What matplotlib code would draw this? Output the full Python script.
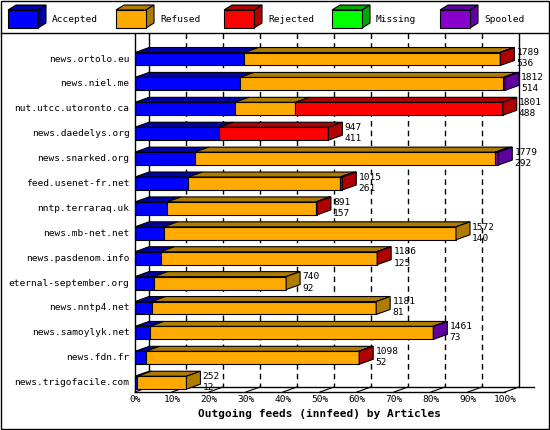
import matplotlib
matplotlib.use("Agg")
import matplotlib.pyplot as plt
from matplotlib.patches import Polygon, Rectangle

feeds = ["news.ortolo.eu", "news.niel.me", "nut.utcc.utoronto.ca", "news.daedelys.org",
         "news.snarked.org", "feed.usenet-fr.net", "nntp.terraraq.uk", "news.mb-net.net",
         "news.pasdenom.info", "eternal-september.org", "news.nntp4.net", "news.samoylyk.net",
         "news.fdn.fr", "news.trigofacile.com"]
accepted = [536, 514, 488, 411, 292, 261, 157, 140, 125, 92, 81, 73, 52, 12]
refused = [1251, 1289, 298, 0, 1472, 744, 729, 1432, 1060, 648, 1100, 1386, 1044, 240]
rejected = [2, 0, 1015, 536, 0, 10, 5, 0, 1, 0, 0, 0, 2, 0]
missing = [0] * 14
spooled = [0, 9, 0, 0, 15, 0, 0, 0, 0, 0, 0, 2, 0, 0]
totals = [1789, 1812, 1801, 947, 1779, 1015, 891, 1572, 1186, 740, 1181, 1461, 1098, 252]

names = ["Accepted", "Refused", "Rejected", "Missing", "Spooled"]
front = ["#0000ff", "#ffaa00", "#ff0000", "#00ff00", "#8800cc"]
dark = ["#0000a8", "#b07c00", "#b00000", "#00a800", "#6000a0"]

W, H = 550, 430
fig = plt.figure(figsize=(W / 100, H / 100), dpi=100)
font = dict(family="DejaVu Sans Mono", fontsize=6.8)

# frame / legend layer in pixel coords
bg = fig.add_axes([0, 0, 1, 1])
bg.set_xlim(0, W)
bg.set_ylim(H, 0)
bg.axis("off")
bg.add_patch(Rectangle((1, 1), W - 2, H - 2, fill=False, lw=1, ec="black"))
bg.plot([1, W - 1], [33, 33], color="black", lw=1)
for i, n in enumerate(names):
    x0 = 8 + i * 108
    bg.add_patch(Polygon([(x0, 10), (x0 + 8, 5), (x0 + 38, 5), (x0 + 30, 10)], fc=dark[i], ec="black", lw=0.8))
    bg.add_patch(Polygon([(x0 + 30, 10), (x0 + 38, 5), (x0 + 38, 23), (x0 + 30, 28)], fc=dark[i], ec="black", lw=0.8))
    bg.add_patch(Rectangle((x0, 10), 30, 18, fc=front[i], ec="black", lw=0.8))
    bg.text(x0 + 44, 19, n, va="center", **font)

# chart layer: x in percent of the largest feed, y in rows
px = 3.7
ax = fig.add_axes([130 / W, 1 - 400 / H, (548 - 130) / W, (400 - 33) / H])
ax.set_xlim(-5 / px, (548 - 135) / px)
ax.set_ylim((400 - 59) / 24.9, (33 - 59) / 24.9)
ax.axis("off")
dx, dy, hh = 14 / px, 5 / 24.9, 0.26
ymax_row = (392 - 59) / 24.9
ytop = (33 - 59) / 24.9
ax.plot([0, 0], [ytop, ymax_row], color="black", lw=1, zorder=3)
ax.plot([dx, dx], [ytop, ymax_row - dy], color="black", lw=1, zorder=0)
ax.plot([100 + dx, 100 + dx], [ytop, ymax_row - dy], color="black", lw=1, zorder=0)
ax.plot([0, 100], [ymax_row, ymax_row], color="black", lw=1)
ax.plot([dx, 100 + dx + 4], [ymax_row - dy, ymax_row - dy], color="black", lw=1)
for k in range(11):
    x = k * 10
    if 0 < k < 10:
        ax.plot([x + dx, x + dx], [ytop, ymax_row - dy], color="black", lw=1, ls=(0, (4, 3)), zorder=0)
    ax.plot([x, x + dx], [ymax_row, ymax_row - dy], color="black", lw=0.8)
    ax.text(x, ymax_row + 0.12, f"{k * 10}%", ha="center", va="top", **font)
ax.text(50, ymax_row + 0.7, "Outgoing feeds (innfeed) by Articles", ha="center", va="top",
        fontweight="bold", family="DejaVu Sans Mono", fontsize=8)

scale = 100 / max(totals)
for r, feed in enumerate(feeds):
    segs = [accepted[r], refused[r], rejected[r], missing[r], spooled[r]]
    x = 0
    last = 0
    for c, v in enumerate(segs):
        if v <= 0:
            continue
        w = v * scale
        ax.add_patch(Polygon([(x, r - hh), (x + dx, r - hh - dy), (x + w + dx, r - hh - dy), (x + w, r - hh)],
                             fc=dark[c], ec="black", lw=0.8, zorder=2))
        ax.add_patch(Rectangle((x, r - hh), w, 2 * hh, fc=front[c], ec="black", lw=0.8, zorder=2))
        x += w
        last = c
    ax.add_patch(Polygon([(x, r - hh), (x + dx, r - hh - dy), (x + dx, r + hh - dy), (x, r + hh)],
                         fc=dark[last], ec="black", lw=0.8, zorder=2))
    ax.text(-1.5, r, feed, ha="right", va="center", **font)
    ax.text(x + dx + 0.6, r - 0.25, str(totals[r]), ha="left", va="center", zorder=4, **font)
    ax.text(x + dx + 0.6, r + 0.2, str(accepted[r]), ha="left", va="center", zorder=4, **font)

fig.savefig("out.png", dpi=100)
